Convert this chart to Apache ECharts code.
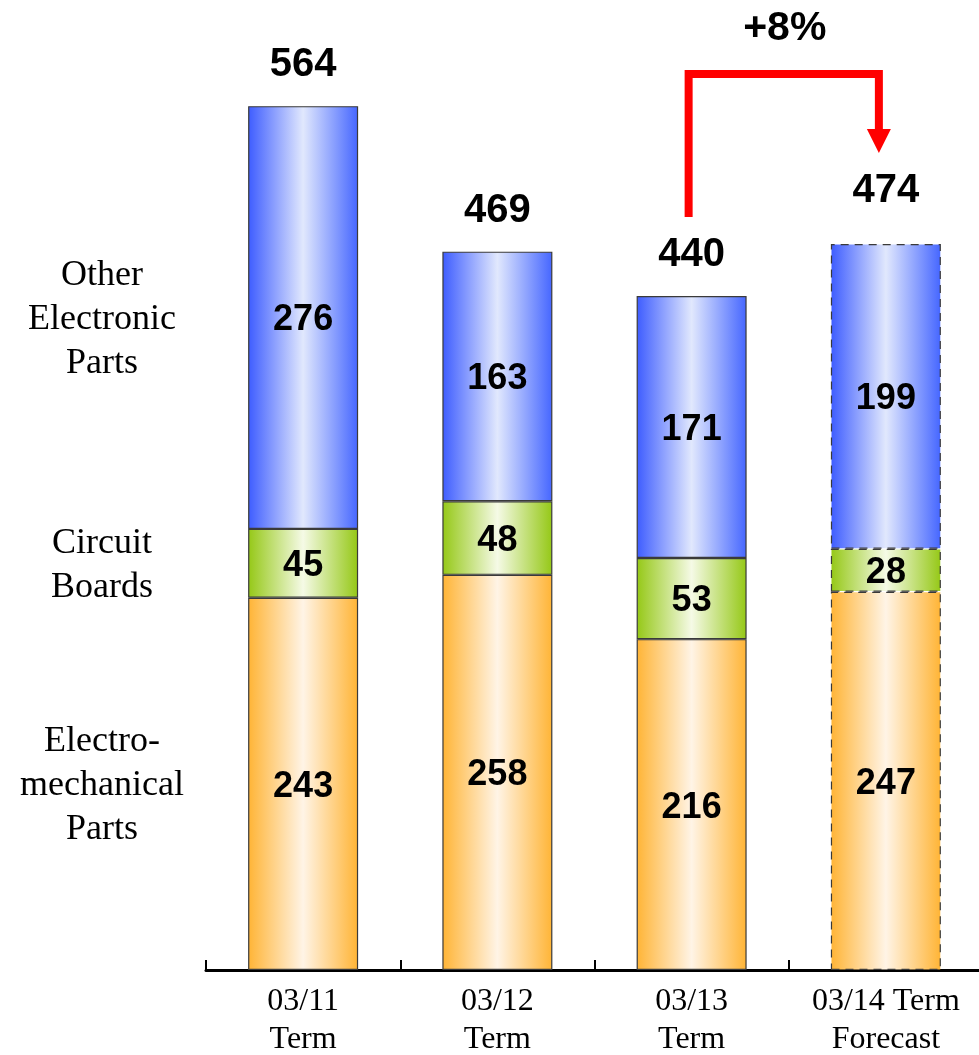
<!DOCTYPE html>
<html>
<head>
<meta charset="utf-8">
<style>
  html, body { margin: 0; padding: 0; background: #ffffff; }
  #chart { width: 979px; height: 1055px; }
</style>
<script src="https://cdn.jsdelivr.net/npm/echarts@6/dist/echarts.min.js"></script>
</head>
<body>
<div id="chart"></div>
<script>
// Sales by product segment (stacked), last bar is a forecast
const categories = ['03/11\nTerm', '03/12\nTerm', '03/13\nTerm', '03/14 Term\nForecast'];
const electroMechanical = [243, 258, 216, 247];
const circuitBoards = [45, 48, 53, 28];
const otherElectronic = [276, 163, 171, 199];
const totals = [564, 469, 440, 474];
const segmentNames = ['Electro-\nmechanical\nParts', 'Circuit\nBoards', 'Other\nElectronic\nParts'];
const growthText = '+8%';
const forecastIndex = 3;

const chart = echarts.init(document.getElementById('chart'), null, { renderer: 'canvas' });

function hGrad(edgeL, mid, edgeR) {
  return new echarts.graphic.LinearGradient(0, 0, 1, 0, [
    { offset: 0, color: edgeL },
    { offset: 0.5, color: mid },
    { offset: 1, color: edgeR }
  ]);
}

const palettes = [
  ['#ffb435', '#fff4e6', '#ffb435'],
  ['#95c816', '#f5fae6', '#95c816'],
  ['#3d5cff', '#e1e8fd', '#4566ff']
];

const insideLabel = {
  show: true,
  position: 'inside',
  offset: [0, 3],
  color: '#000',
  fontFamily: 'Liberation Sans, Arial, sans-serif',
  fontWeight: 'bold',
  fontSize: 36
};

function barSeries(name, values, pal) {
  return {
    name: name,
    type: 'bar',
    stack: 'total',
    barWidth: 110,
    label: insideLabel,
    data: values.map((v, i) => ({
      value: v,
      itemStyle: {
        color: hGrad(pal[0], pal[1], pal[2]),
        borderColor: '#3a3a3a',
        borderWidth: 1.2,
        borderType: i === forecastIndex ? [8, 6] : 'solid'
      }
    }))
  };
}

const option = {
  animation: false,
  backgroundColor: '#ffffff',
  grid: { left: 206, right: -4, top: 51, bottom: 85, outerBoundsMode: 'none', containLabel: false },
  xAxis: {
    type: 'category',
    data: categories,
    axisLine: { lineStyle: { color: '#000', width: 3 } },
    axisTick: { show: true, inside: true, length: 10, lineStyle: { color: '#000', width: 2 } },
    axisLabel: {
      color: '#000',
      fontFamily: 'Liberation Serif, Times New Roman, serif',
      fontSize: 32,
      lineHeight: 38,
      margin: 13,
      interval: 0
    }
  },
  yAxis: {
    type: 'value',
    min: 0,
    max: 600,
    show: false,
    splitLine: { show: false }
  },
  series: [
    barSeries(segmentNames[0], electroMechanical, palettes[0]),
    barSeries(segmentNames[1], circuitBoards, palettes[1]),
    barSeries(segmentNames[2], otherElectronic, palettes[2]),
    {
      name: 'Total',
      type: 'scatter',
      symbolSize: 0,
      silent: true,
      itemStyle: { opacity: 1 },
      label: {
        show: true,
        position: 'top',
        distance: 21,
        color: '#000',
        fontFamily: 'Liberation Sans, Arial, sans-serif',
        fontWeight: 'bold',
        fontSize: 40
      },
      data: totals.map((v, i) => i === forecastIndex
        ? { value: v, label: { distance: 33 } }
        : v)
    }
  ]
};

chart.setOption(option);

// Segment names on the left, centred on the first bar's segments,
// plus the growth arrow from the last actual total to the forecast total.
function buildGraphics() {
  const px = (ci, v) => chart.convertToPixel({ gridIndex: 0 }, [ci, v]);
  const stacks = [electroMechanical, circuitBoards, otherElectronic];
  const elements = [];
  let base = 0;
  stacks.forEach((arr, si) => {
    const mid = base + arr[0] / 2;
    base += arr[0];
    const p = px(0, mid);
    elements.push({
      type: 'text',
      x: 102,
      y: p[1] + 2,
      style: {
        text: segmentNames[si],
        fill: '#000',
        font: '36px "Liberation Serif", "Times New Roman", serif',
        lineHeight: 44,
        align: 'center',
        verticalAlign: 'middle'
      }
    });
  });

  const from = px(forecastIndex - 1, totals[forecastIndex - 1]);
  const to = px(forecastIndex, totals[forecastIndex]);
  const startY = from[1] - 79;
  const topY = to[1] - 170;
  const tipY = to[1] - 91;
  const headBase = tipY - 24;
  const fx = from[0] - 3;
  const tx = to[0] - 7;
  elements.push({
    type: 'polyline',
    shape: { points: [[fx, startY], [fx, topY], [tx, topY], [tx, headBase]] },
    style: { stroke: '#ff0000', lineWidth: 8, fill: null, lineJoin: 'miter' }
  });
  elements.push({
    type: 'polygon',
    shape: { points: [[tx - 12, headBase], [tx + 12, headBase], [tx, tipY]] },
    style: { fill: '#ff0000' }
  });
  elements.push({
    type: 'text',
    x: (fx + tx) / 2 + 1,
    y: 29,
    style: {
      text: growthText,
      fill: '#000',
      font: 'bold 41px "Liberation Sans", Arial, sans-serif',
      align: 'center',
      verticalAlign: 'middle'
    }
  });
  chart.setOption({ graphic: { elements: elements } });
}
buildGraphics();
</script>
</body>
</html>
